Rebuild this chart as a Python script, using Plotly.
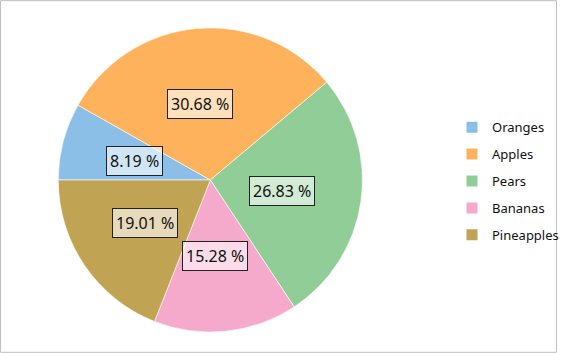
import math
import plotly.graph_objects as go

categories = ["Oranges", "Apples", "Pears", "Bananas", "Pineapples"]
values = [8.19, 30.68, 26.83, 15.28, 19.01]
colors = ["#8bbfe8", "#fdb25b", "#90cd97", "#f6aacb", "#c0a453"]

W, H = 564, 353
cx, cy, R = 210, 180, 152
dom_x = [(cx - R + 1) / W, (cx + R + 5) / W]
dom_y = [1 - (cy + R + 2) / H, 1 - (cy - R - 2) / H]

fig = go.Figure()
fig.add_trace(go.Pie(
    labels=categories, values=values, sort=False,
    direction="clockwise", rotation=270,
    marker=dict(colors=colors, line=dict(color="rgba(255,255,255,0.6)", width=1)),
    textinfo="none", hoverinfo="label+percent", showlegend=False,
    domain=dict(x=dom_x, y=dom_y),
))

# labels at slice mid-angles, half radius
total = sum(values)
cum = 0.0
annotations = []
for v in values:
    mid = (cum + v / 2) / total
    cum += v
    ang = math.radians(180 - mid * 360)
    px = cx + 0.5 * R * math.cos(ang)
    py = cy - 0.5 * R * math.sin(ang)
    annotations.append(dict(
        x=px / W, y=1 - py / H, xref="paper", yref="paper",
        xanchor="center", yanchor="middle",
        text=f"{v:.2f} %", showarrow=False,
        font=dict(size=16, color="#111111", family="Noto Sans"),
        bgcolor="rgba(255,255,255,0.6)", bordercolor="#222222", borderwidth=1, borderpad=3,
    ))

# legend entries
for c, col in zip(categories, colors):
    fig.add_trace(go.Scatter(
        x=[None], y=[None], mode="markers", name=c, legendgroup=c,
        marker=dict(symbol="square", size=11, color=col),
    ))

fig.update_layout(
    width=W, height=H,
    margin=dict(l=0, r=0, t=0, b=0),
    paper_bgcolor="white", plot_bgcolor="white",
    xaxis=dict(visible=False), yaxis=dict(visible=False),
    annotations=annotations,
    showlegend=True,
    legend=dict(x=0.812, y=0.682, xanchor="left", yanchor="top",
                font=dict(size=13, family="Noto Sans", color="#111111"),
                tracegroupgap=7, itemwidth=30, bgcolor="rgba(0,0,0,0)"),
    shapes=[dict(type="rect", xref="paper", yref="paper", x0=0.001, y0=0.002, x1=0.999, y1=0.998,
                 line=dict(color="#bdbdbd", width=1))],
)

fig.write_html("out.html")
